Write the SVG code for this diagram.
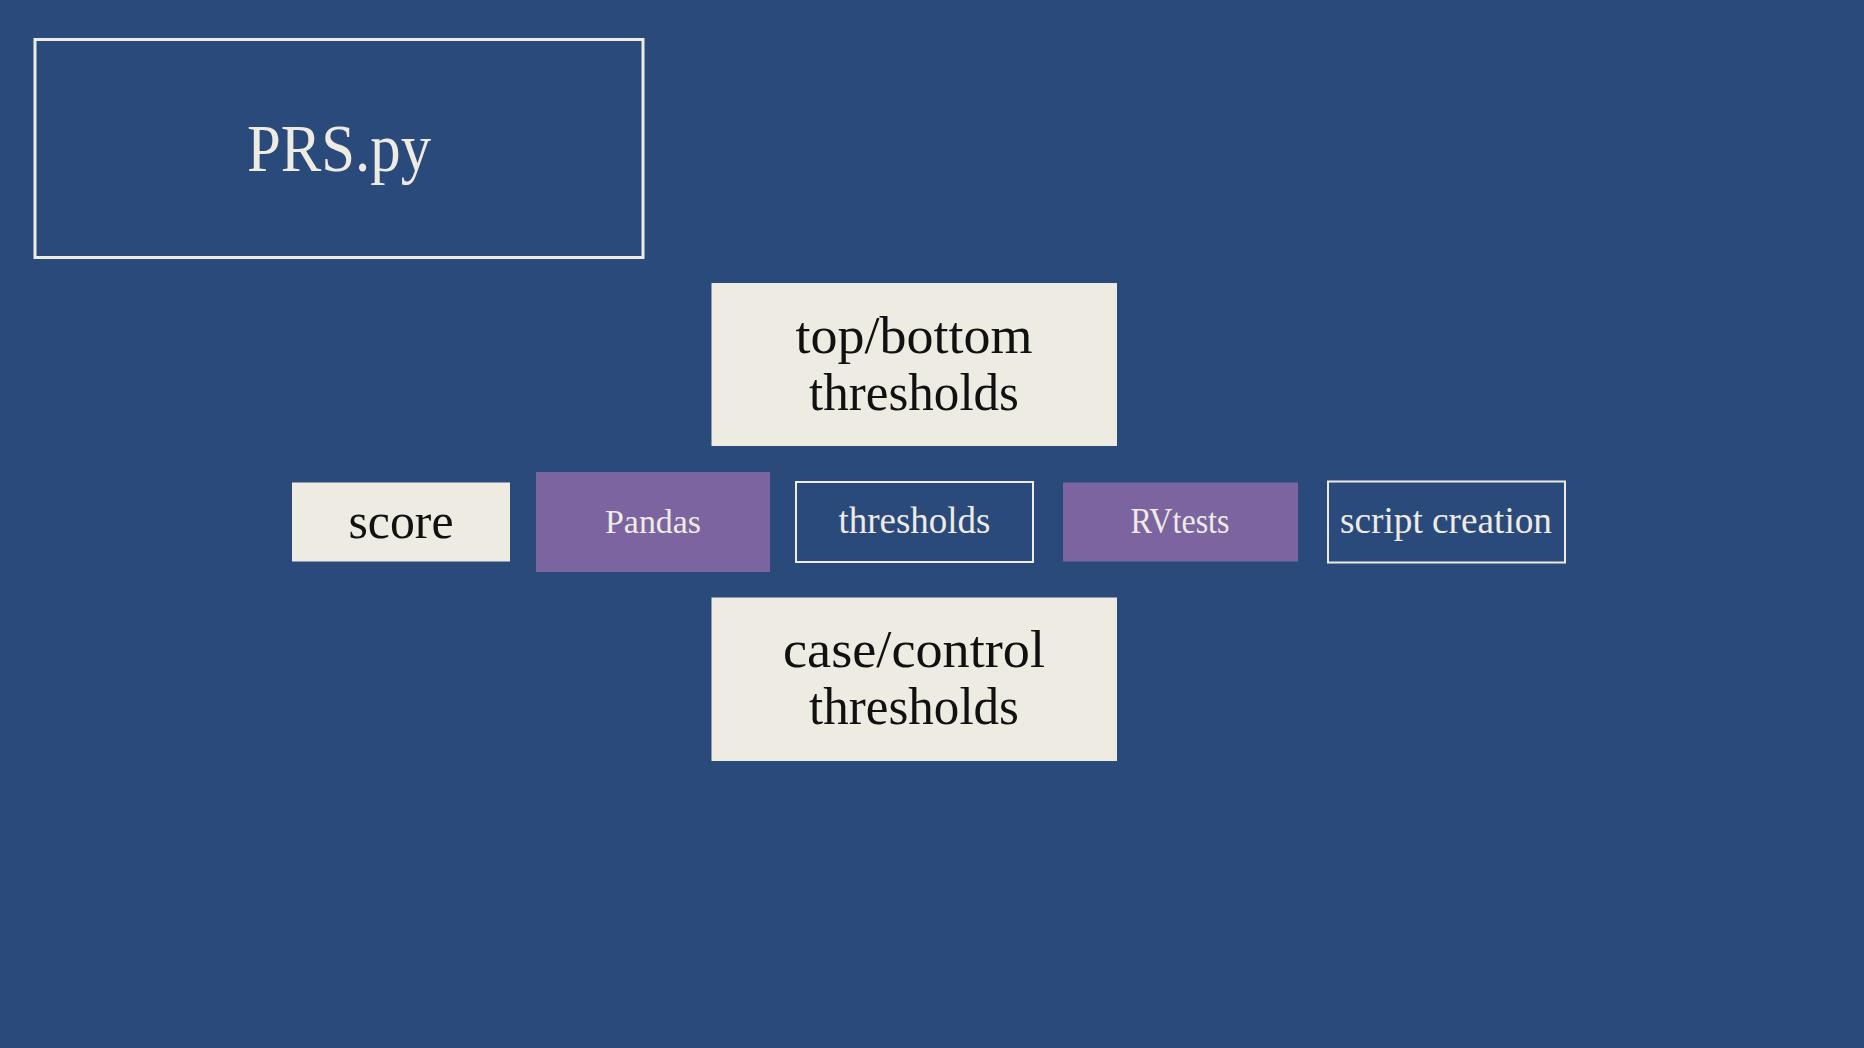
<svg xmlns="http://www.w3.org/2000/svg" width="1864" height="1048" viewBox="0 0 1864 1048">
<style>
.cream{fill:#EEEBE3}
.purple{fill:#7B649F}
.outline{fill:none;stroke:#EEEBE3}
text{font-family:"Liberation Serif","DejaVu Serif",serif;text-anchor:middle}
.dark{fill:#111111}
.light{fill:#EEEBE3}
</style>
<rect x="0" y="0" width="1864" height="1048" fill="#2A4A7B"/>
<g id="title">
<rect class="outline" x="35" y="39.5" width="608" height="218" stroke-width="3"/>
<text class="light" x="339" y="171" font-size="67" textLength="184" lengthAdjust="spacingAndGlyphs">PRS.py</text>
</g>
<g id="top-bottom">
<rect class="cream" x="711.5" y="283" width="405.5" height="163"/>
<text class="dark" x="914" y="353" font-size="52" textLength="237" lengthAdjust="spacingAndGlyphs">top/bottom</text>
<text class="dark" x="914" y="409.5" font-size="52" textLength="210" lengthAdjust="spacingAndGlyphs">thresholds</text>
</g>
<g id="score">
<rect class="cream" x="292" y="482.5" width="218" height="79"/>
<text class="dark" x="401" y="538" font-size="50" textLength="105" lengthAdjust="spacingAndGlyphs">score</text>
</g>
<g id="pandas">
<rect class="purple" x="536" y="472" width="234" height="100"/>
<text class="light" x="653" y="533" font-size="34" textLength="96" lengthAdjust="spacingAndGlyphs">Pandas</text>
</g>
<g id="thresholds">
<rect class="outline" x="796" y="482" width="237" height="80" stroke-width="2"/>
<text class="light" x="914.5" y="533" font-size="37" textLength="152" lengthAdjust="spacingAndGlyphs">thresholds</text>
</g>
<g id="rvtests">
<rect class="purple" x="1063" y="482.5" width="235" height="79"/>
<text class="light" x="1180" y="533" font-size="35" textLength="99" lengthAdjust="spacingAndGlyphs">RVtests</text>
</g>
<g id="script-creation">
<rect class="outline" x="1328" y="481.5" width="237" height="81" stroke-width="2"/>
<text class="light" x="1446" y="533" font-size="37" textLength="212" lengthAdjust="spacingAndGlyphs">script creation</text>
</g>
<g id="case-control">
<rect class="cream" x="711.5" y="597.5" width="405.5" height="163.5"/>
<text class="dark" x="914" y="667" font-size="52" textLength="262" lengthAdjust="spacingAndGlyphs">case/control</text>
<text class="dark" x="914" y="723.5" font-size="52" textLength="210" lengthAdjust="spacingAndGlyphs">thresholds</text>
</g>
<g id="connectors"></g>
</svg>
